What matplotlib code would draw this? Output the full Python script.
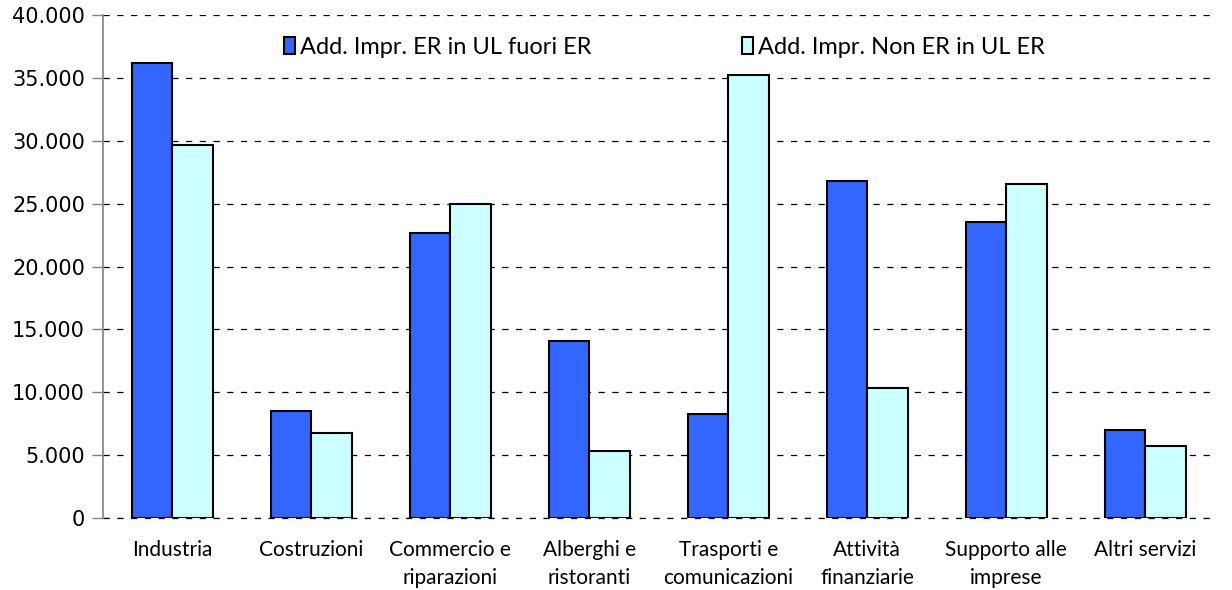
import matplotlib
matplotlib.use('Agg')
import matplotlib.pyplot as plt
import numpy as np
from matplotlib.ticker import FuncFormatter

# categorie e valori (addetti)
categorie = ['Industria', 'Costruzioni', 'Commercio e\nriparazioni', 'Alberghi e\nristoranti',
             'Trasporti e\ncomunicazioni', 'Attività\nfinanziarie', 'Supporto alle\nimprese', 'Altri servizi']
er_fuori = [36200, 8500, 22700, 14100, 8300, 26800, 23500, 7000]
non_er_in = [29700, 6800, 25000, 5300, 35200, 10300, 26600, 5700]
serie = ['Add. Impr. ER in UL fuori ER', 'Add. Impr. Non ER in UL ER']

fig = plt.figure(figsize=(12.32, 5.90), dpi=100)
ax = fig.add_axes([0.0836, 0.122, 0.9024, 0.8526])

x = np.arange(len(categorie))
w = 0.29
ax.bar(x - w / 2, er_fuori, w, color='#3366ff', edgecolor='black', linewidth=1.5, label=serie[0], zorder=3)
ax.bar(x + w / 2, non_er_in, w, color='#ccffff', edgecolor='black', linewidth=1.5, label=serie[1], zorder=3)

ax.set_xlim(-0.5, len(categorie) - 0.5)
ax.set_ylim(0, 40000)
ax.set_yticks(np.arange(0, 40001, 5000))
ax.yaxis.set_major_formatter(FuncFormatter(lambda v, p: f'{int(v):,}'.replace(',', '.')))
ax.grid(axis='y', color='black', linestyle=(0, (5, 6)), linewidth=0.9, zorder=0)
ax.axhline(0, color='black', linestyle=(0, (5, 6)), linewidth=0.9, zorder=0, clip_on=False)
ax.set_axisbelow(True)

for s in ['top', 'right', 'bottom']:
    ax.spines[s].set_visible(False)
ax.spines['left'].set_color('#808080')
ax.spines['left'].set_linewidth(1.2)
ax.tick_params(axis='y', length=8, width=1, color='#808080', labelsize=15, pad=5)
ax.tick_params(axis='x', length=0, pad=16)
ax.set_xticks(x)
ax.set_xticklabels(categorie, fontfamily='Lato', fontsize=15, linespacing=1.5)

ax.legend(loc='center', bbox_to_anchor=(0.505, 0.936), ncol=2, frameon=False,
          prop={'family': 'Lato', 'size': 17}, handlelength=0.45, handleheight=0.75,
          handletextpad=0.2, columnspacing=6.4)

fig.savefig('out.png', dpi=100, facecolor='white')
